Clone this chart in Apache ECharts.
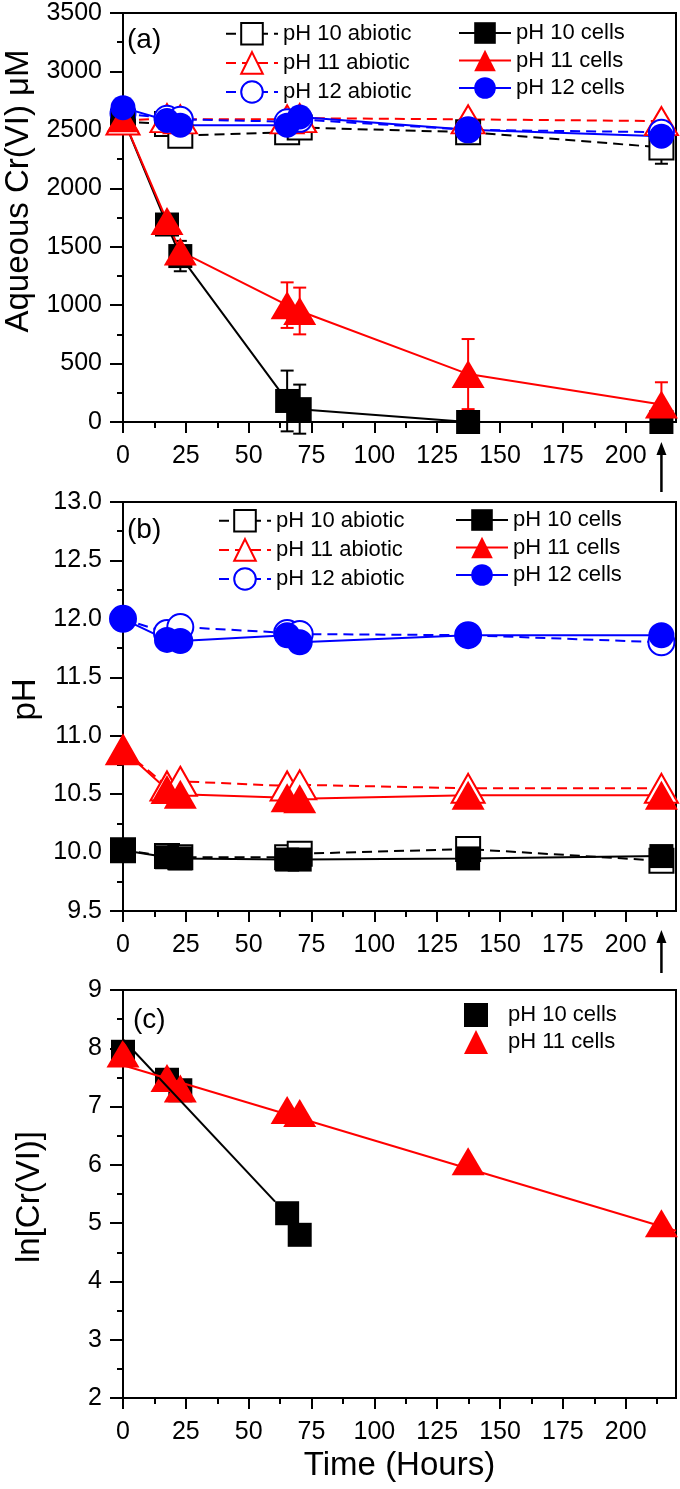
<!DOCTYPE html>
<html><head><meta charset="utf-8">
<script src="https://cdn.jsdelivr.net/npm/echarts@6/dist/echarts.min.js"></script>
<style>html,body{margin:0;padding:0;background:#fff}#c{width:680px;height:1489px}</style>
</head><body><div id="c"></div>
<script>
// ---------- data ----------
const times = [0, 17.5, 22.8, 65.3, 70.3, 137.3, 214.2];
const xTickValues = [0, 25, 50, 75, 100, 125, 150, 175, 200];
const xMinorTickValues = [12.5, 37.5, 62.5, 87.5, 112.5, 137.5, 162.5, 187.5, 212.5];

// (a) aqueous Cr(VI), uM
const cr10abiotic = [2570, 2550, 2450, 2480, 2520, 2480, 2350];
const cr11abiotic = [2580, 2600, 2590, 2590, 2600, 2590, 2575];
const cr12abiotic = [2640, 2600, 2590, 2570, 2590, 2500, 2480];
const cr10cells   = [2600, 1690, 1420, 180, 110, 0, 0];
const cr11cells   = [2600, 1720, 1460, 1000, 950, 410, 150];
const cr12cells   = [2690, 2580, 2540, 2540, 2610, 2500, 2445];
const cr10abioticErr = [0, 0, 0, 80, 0, 0, 140];
const cr10cellsErr   = [0, 0, 130, 260, 210, 0, 0];
const cr11cellsErr   = [0, 0, 0, 195, 200, 300, 190];

// (b) pH
const ph10abiotic = [10.02, 9.97, 9.96, 9.96, 9.99, 10.03, 9.93];
const ph11abiotic = [10.88, 10.57, 10.61, 10.57, 10.58, 10.55, 10.55];
const ph12abiotic = [12.00, 11.88, 11.93, 11.88, 11.87, 11.86, 11.80];
const ph10cells   = [10.02, 9.96, 9.95, 9.94, 9.94, 9.95, 9.97];
const ph11cells   = [10.88, 10.54, 10.50, 10.47, 10.46, 10.49, 10.49];
const ph12cells   = [12.00, 11.82, 11.81, 11.86, 11.80, 11.86, 11.86];

// (c) ln[Cr(VI)]
const lnTimes10 = [0, 17.5, 22.8, 65.3, 70.3];
const ln10cells = [7.94, 7.46, 7.28, 5.17, 4.80];
const ln11cells = [7.91, 7.49, 7.31, 6.94, 6.89, 6.06, 5.00];
const fit10Time = [0, 60.5];
const fit10Val  = [8.15, 5.37];
const fit11Time = [0, 220];
const fit11Val  = [7.71, 4.87];

const arrowTime = 214.2;

// ---------- chart ----------
const FONT = "'Liberation Sans', Arial, sans-serif";
const BLACK = '#000000', RED = '#ff0000', BLUE = '#0000ff';
const chart = echarts.init(document.getElementById('c'), null, {renderer: 'canvas'});

const pair = (xs, ys) => xs.map((x, i) => [x, ys[i]]);

const gridBase = {left: 123, width: 553, show: true, borderColor: BLACK, borderWidth: 2,
  backgroundColor: 'transparent', containLabel: false, outerBoundsMode: 'none'};
const grids = [
  Object.assign({top: 13, height: 409}, gridBase),
  Object.assign({top: 502, height: 409}, gridBase),
  Object.assign({top: 990, height: 408}, gridBase)
];

function mainX(gi, withName) {
  const ax = {
    type: 'value', gridIndex: gi, min: 0, max: 220, position: 'bottom',
    axisLine: {show: true, onZero: false, lineStyle: {color: BLACK, width: 2}},
    axisTick: {show: true, inside: false, length: 11, customValues: xTickValues, lineStyle: {color: BLACK, width: 2}},
    axisLabel: {show: true, customValues: xTickValues, margin: 22, fontSize: 25, color: BLACK, fontFamily: FONT},
    splitLine: {show: false}
  };
  if (withName) {
    ax.name = 'Time (Hours)';
    ax.nameLocation = 'middle';
    ax.nameGap = 51;
    ax.nameTextStyle = {fontSize: 33, color: BLACK, fontFamily: FONT};
  }
  return ax;
}
function minorX(gi) {
  return {
    type: 'value', gridIndex: gi, min: 0, max: 220, position: 'bottom',
    axisLine: {show: false},
    axisTick: {show: true, length: 6, customValues: xMinorTickValues, lineStyle: {color: BLACK, width: 2}},
    axisLabel: {show: false},
    splitLine: {show: false}
  };
}
function mkY(gi, min, max, interval, name, gap, pad, fmt) {
  return {
    type: 'value', gridIndex: gi, min: min, max: max, interval: interval,
    axisLine: {show: true, onZero: false, lineStyle: {color: BLACK, width: 2}},
    axisTick: {show: true, length: 13, lineStyle: {color: BLACK, width: 2}},
    minorTick: {show: true, splitNumber: 2, length: 6, lineStyle: {color: BLACK, width: 2}},
    axisLabel: {margin: 21, fontSize: 25, color: BLACK, fontFamily: FONT, formatter: fmt},
    splitLine: {show: false},
    minorSplitLine: {show: false},
    name: name, nameLocation: 'middle', nameGap: gap,
    nameTextStyle: {fontSize: 33, color: BLACK, fontFamily: FONT, padding: pad}
  };
}

function lineS(name, gi, xs, ys, color, symbol, size, dashed) {
  const empty = symbol.indexOf('empty') === 0;
  return {
    type: 'line', name: name, xAxisIndex: gi, yAxisIndex: gi,
    data: pair(xs, ys), clip: false, animation: false,
    symbol: symbol, symbolSize: size, showSymbol: true,
    lineStyle: {color: color, width: 2, type: dashed ? [10, 6] : 'solid'},
    itemStyle: empty ? {color: color, borderColor: color, borderWidth: 2.5} : {color: color, borderWidth: 0},
    emphasis: {disabled: true}
  };
}
function scatterS(name, gi, xs, ys, color, symbol, size) {
  return {
    type: 'scatter', name: name, xAxisIndex: gi, yAxisIndex: gi,
    data: pair(xs, ys), clip: false, animation: false,
    symbol: symbol, symbolSize: size,
    itemStyle: {color: color, opacity: 1},
    emphasis: {disabled: true}
  };
}
function fitS(name, gi, xs, ys, color) {
  return {
    type: 'line', name: name, xAxisIndex: gi, yAxisIndex: gi,
    data: pair(xs, ys), clip: false, animation: false, showSymbol: false, symbol: 'none',
    lineStyle: {color: color, width: 2}, emphasis: {disabled: true}, silent: true
  };
}
function errS(name, gi, vals, errs, color) {
  const d = [];
  times.forEach((t, i) => { if (errs[i] > 0) d.push([t, vals[i] - errs[i], vals[i] + errs[i]]); });
  return {
    type: 'custom', name: name, xAxisIndex: gi, yAxisIndex: gi, data: d, animation: false, silent: true,
    encode: {x: 0, y: [1, 2]},
    renderItem: function (params, api) {
      const x = api.value(0);
      const lo = api.coord([x, api.value(1)]);
      const hi = api.coord([x, api.value(2)]);
      const w = 6.5;
      const st = {stroke: color, lineWidth: 2};
      return {type: 'group', children: [
        {type: 'line', shape: {x1: lo[0], y1: lo[1], x2: hi[0], y2: hi[1]}, style: st},
        {type: 'line', shape: {x1: lo[0] - w, y1: lo[1], x2: lo[0] + w, y2: lo[1]}, style: st},
        {type: 'line', shape: {x1: hi[0] - w, y1: hi[1], x2: hi[0] + w, y2: hi[1]}, style: st}
      ]};
    }
  };
}

const SQ = 24, TRI = [33, 28], CIR = 25;
const SQb = 24, TRIb = [33, 29], CIRb = 26;

const series = [
  // (a)
  errS('err10abiotic', 0, cr10abiotic, cr10abioticErr, BLACK),
  lineS('a:pH 10 abiotic', 0, times, cr10abiotic, BLACK, 'emptyRect', SQ, true),
  lineS('a:pH 11 abiotic', 0, times, cr11abiotic, RED, 'emptyTriangle', TRI, true),
  lineS('a:pH 12 abiotic', 0, times, cr12abiotic, BLUE, 'emptyCircle', CIR, true),
  errS('err10cells', 0, cr10cells, cr10cellsErr, BLACK),
  errS('err11cells', 0, cr11cells, cr11cellsErr, RED),
  lineS('a:pH 10 cells', 0, times, cr10cells, BLACK, 'rect', SQ, false),
  lineS('a:pH 11 cells', 0, times, cr11cells, RED, 'triangle', TRI, false),
  lineS('a:pH 12 cells', 0, times, cr12cells, BLUE, 'circle', CIR, false),
  // (b)
  lineS('b:pH 10 abiotic', 1, times, ph10abiotic, BLACK, 'emptyRect', SQb, true),
  lineS('b:pH 11 abiotic', 1, times, ph11abiotic, RED, 'emptyTriangle', TRIb, true),
  lineS('b:pH 12 abiotic', 1, times, ph12abiotic, BLUE, 'emptyCircle', CIRb, true),
  lineS('b:pH 10 cells', 1, times, ph10cells, BLACK, 'rect', SQb, false),
  lineS('b:pH 11 cells', 1, times, ph11cells, RED, 'triangle', TRIb, false),
  lineS('b:pH 12 cells', 1, times, ph12cells, BLUE, 'circle', CIRb, false),
  // (c)
  scatterS('c:pH 10 cells', 2, lnTimes10, ln10cells, BLACK, 'rect', SQ),
  scatterS('c:pH 11 cells', 2, times, ln11cells, RED, 'triangle', TRI),
  fitS('fit10', 2, fit10Time, fit10Val, BLACK),
  fitS('fit11', 2, fit11Time, fit11Val, RED)
];

const legendBase = {
  orient: 'vertical', padding: 0, itemWidth: 52, itemHeight: 27, itemGap: 5.5,
  selectedMode: false, formatter: n => n.slice(2),
  textStyle: {fontSize: 22, color: BLACK, fontFamily: FONT}
};
const legends = [
  Object.assign({}, legendBase, {left: 225, top: 22, data: ['a:pH 10 abiotic', 'a:pH 11 abiotic', 'a:pH 12 abiotic']}),
  Object.assign({}, legendBase, {left: 458, top: 22, data: ['a:pH 10 cells', 'a:pH 11 cells', 'a:pH 12 cells']}),
  Object.assign({}, legendBase, {left: 218, top: 509, data: ['b:pH 10 abiotic', 'b:pH 11 abiotic', 'b:pH 12 abiotic']}),
  Object.assign({}, legendBase, {left: 455, top: 509, data: ['b:pH 10 cells', 'b:pH 11 cells', 'b:pH 12 cells']}),
  Object.assign({}, legendBase, {left: 464, top: 1003, itemWidth: 24, itemHeight: 24, itemGap: 3,
    textStyle: {fontSize: 22, color: BLACK, fontFamily: FONT, padding: [0, 0, 0, 15]},
    data: ['c:pH 10 cells', 'c:pH 11 cells']})
];

const panelLabel = (id, txt, x, y) => ({
  type: 'text', id: id, x: x, y: y, silent: true,
  style: {text: txt, font: '28px ' + FONT, fill: BLACK, textVerticalAlign: 'middle', textAlign: 'left'}
});

chart.setOption({
  animation: false,
  backgroundColor: '#ffffff',
  textStyle: {fontFamily: FONT},
  grid: grids,
  xAxis: [mainX(0, false), mainX(1, false), mainX(2, true), minorX(0), minorX(1), minorX(2)],
  yAxis: [
    mkY(0, 0, 3500, 500, 'Aqueous Cr(VI) μM', 82, [0, 0, 0, 53], v => String(v)),
    mkY(1, 9.5, 13, 0.5, 'pH', 78, [0, 0, 0, 14], v => v.toFixed(1)),
    mkY(2, 2, 9, 1, 'ln[Cr(VI)]', 77, [0, 6, 0, 0], v => String(v))
  ],
  legend: legends,
  series: series,
  graphic: {elements: [
    panelLabel('la', '(a)', 127, 40),
    panelLabel('lb', '(b)', 127, 530),
    panelLabel('lc', '(c)', 133, 1020)
  ]}
});

// arrows marking the last sampling time, placed through the axis scale
const arrowEls = [];
[[0, 0, 20, 70], [1, 9.5, 19, 62]].forEach(([gi, yv, tipOff, tailOff], k) => {
  const p = chart.convertToPixel({xAxisIndex: gi, yAxisIndex: gi}, [arrowTime, yv]);
  const x = p[0], y0 = p[1];
  arrowEls.push({type: 'line', id: 'arl' + k, silent: true,
    shape: {x1: x, y1: y0 + tailOff, x2: x, y2: y0 + tipOff + 10}, style: {stroke: BLACK, lineWidth: 2.5}});
  arrowEls.push({type: 'polygon', id: 'arh' + k, silent: true,
    shape: {points: [[x, y0 + tipOff], [x - 5, y0 + tipOff + 13], [x + 5, y0 + tipOff + 13]]}, style: {fill: BLACK}});
});
chart.setOption({graphic: {elements: arrowEls}});
</script></body></html>
